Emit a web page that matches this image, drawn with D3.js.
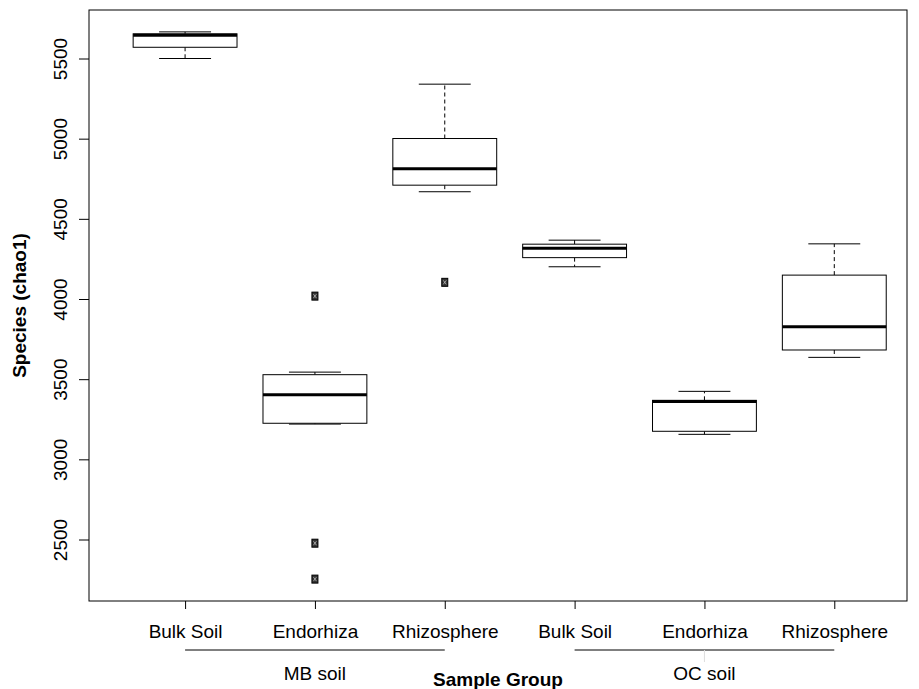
<!DOCTYPE html>
<html>
<head>
<meta charset="utf-8">
<script src="https://cdn.jsdelivr.net/npm/d3@7"></script>
<style>
  html, body { margin: 0; padding: 0; background: #fff; }
  svg { display: block; }
  text { font-family: "Liberation Sans", Arial, Helvetica, sans-serif; fill: #000; }
</style>
</head>
<body>
<svg id="chart" width="919" height="689"></svg>
<script>
// Sample groups, in plotting order
const categories = ["Bulk Soil", "Endorhiza", "Rhizosphere", "Bulk Soil", "Endorhiza", "Rhizosphere"];
const soils = ["MB soil", "OC soil"];
const soilOfBox = [0, 0, 0, 1, 1, 1];

// Box statistics for chao1 richness, one entry per sample group
const lowerWhisker = [5500, 3220, 4669, 4201, 3156, 3636];
const q1           = [5570, 3225, 4710, 4258, 3175, 3682];
const median       = [5645, 3403, 4812, 4316, 3360, 3827];
const q3           = [5654, 3528, 5001, 4342, 3368, 4149];
const upperWhisker = [5666, 3544, 5340, 4367, 3424, 4344];
const outliers     = [[], [4018, 2477, 2253], [4104], [], [], []];

const yTicks = [2500, 3000, 3500, 4000, 4500, 5000, 5500];

const svg = d3.select("#chart");
const plot = { left: 89, right: 907, top: 10, bottom: 601 };

// y range: data extent padded by 4% on each side
const allVals = lowerWhisker.concat(upperWhisker, outliers.flat());
const [lo, hi] = d3.extent(allVals);
const pad = (hi - lo) * 0.04;
const y = d3.scaleLinear().domain([lo - pad, hi + pad]).range([plot.bottom, plot.top]);

// box positions 1..6
const x = d3.scaleLinear().domain([0.26, 6.56]).range([plot.left, plot.right]);
const boxHalf = 0.4, capHalf = 0.2;

const boxes = categories.map((c, i) => ({
  i, pos: i + 1, c,
  lw: lowerWhisker[i], q1: q1[i], med: median[i], q3: q3[i], uw: upperWhisker[i],
  out: outliers[i]
}));

const g = svg.append("g");

// whiskers (dashed)
g.selectAll(".whisk-up").data(boxes).join("line")
  .attr("x1", d => x(d.pos)).attr("x2", d => x(d.pos))
  .attr("y1", d => y(d.q3)).attr("y2", d => y(d.uw))
  .attr("stroke", "#000").attr("stroke-width", 1).attr("stroke-dasharray", "4,3");
g.selectAll(".whisk-lo").data(boxes).join("line")
  .attr("x1", d => x(d.pos)).attr("x2", d => x(d.pos))
  .attr("y1", d => y(d.q1)).attr("y2", d => y(d.lw))
  .attr("stroke", "#000").attr("stroke-width", 1).attr("stroke-dasharray", "4,3");

// staples
["uw", "lw"].forEach(k => {
  g.selectAll(".cap-" + k).data(boxes).join("line")
    .attr("x1", d => x(d.pos - capHalf)).attr("x2", d => x(d.pos + capHalf))
    .attr("y1", d => y(d[k])).attr("y2", d => y(d[k]))
    .attr("stroke", "#000").attr("stroke-width", 1);
});

// boxes
g.selectAll(".box").data(boxes).join("rect")
  .attr("x", d => x(d.pos - boxHalf))
  .attr("width", d => x(d.pos + boxHalf) - x(d.pos - boxHalf))
  .attr("y", d => y(d.q3))
  .attr("height", d => y(d.q1) - y(d.q3))
  .attr("fill", "#fff").attr("stroke", "#000").attr("stroke-width", 1);

// medians
g.selectAll(".med").data(boxes).join("line")
  .attr("x1", d => x(d.pos - boxHalf)).attr("x2", d => x(d.pos + boxHalf))
  .attr("y1", d => y(d.med)).attr("y2", d => y(d.med))
  .attr("stroke", "#000").attr("stroke-width", 3);

// outlying points
const outPts = boxes.flatMap(d => d.out.map(v => ({ pos: d.pos, v })));
const og = g.selectAll(".out").data(outPts).join("g")
  .attr("transform", d => `translate(${x(d.pos)},${y(d.v)})`);
og.append("rect").attr("x", -3).attr("y", -4).attr("width", 6).attr("height", 8)
  .attr("fill", "#333").attr("stroke", "#000").attr("stroke-width", 1);
og.append("path").attr("d", "M-1.5,-2L1.5,2M1.5,-2L-1.5,2")
  .attr("stroke", "#ccc").attr("stroke-width", 0.7);

// frame
svg.append("rect")
  .attr("x", plot.left).attr("y", plot.top)
  .attr("width", plot.right - plot.left).attr("height", plot.bottom - plot.top)
  .attr("fill", "none").attr("stroke", "#000").attr("stroke-width", 1);

// y axis
const yAxis = svg.append("g").attr("transform", `translate(${plot.left},0)`)
  .call(d3.axisLeft(y).tickValues(yTicks).tickSize(10).tickFormat(d3.format("d")));
yAxis.select(".domain").remove();
yAxis.selectAll(".tick line").attr("stroke", "#000");
yAxis.selectAll(".tick text")
  .attr("x", null).attr("dy", null)
  .attr("transform", "translate(-22,0) rotate(-90)")
  .attr("text-anchor", "middle")
  .style("font-size", "19px")
  .style("font-family", "'Liberation Sans', Arial, sans-serif");

// x axis ticks and category labels
const xAxis = svg.append("g").attr("transform", `translate(0,${plot.bottom})`)
  .call(d3.axisBottom(x).tickValues(boxes.map(d => d.pos)).tickSize(8)
    .tickFormat((d, i) => categories[i]));
xAxis.select(".domain").remove();
xAxis.selectAll(".tick line").attr("stroke", "#000");
xAxis.selectAll(".tick text")
  .attr("y", 37).attr("dy", null)
  .style("font-size", "19px")
  .style("font-family", "'Liberation Sans', Arial, sans-serif");

// soil grouping lines and labels
soils.forEach((s, k) => {
  const members = boxes.filter(d => soilOfBox[d.i] === k);
  const x0 = x(d3.min(members, d => d.pos)), x1 = x(d3.max(members, d => d.pos));
  svg.append("line").attr("x1", x0).attr("x2", x1).attr("y1", 650).attr("y2", 650)
    .attr("stroke", "#000").attr("stroke-width", 1);
  svg.append("text").attr("x", (x0 + x1) / 2).attr("y", 680)
    .attr("text-anchor", "middle").style("font-size", "19px").text(s);
});
svg.append("line").attr("x1", x(5)).attr("x2", x(5)).attr("y1", 650).attr("y2", 662)
  .attr("stroke", "#ddd").attr("stroke-width", 1);

// axis titles
svg.append("text")
  .attr("transform", `translate(26,${(plot.top + plot.bottom) / 2}) rotate(-90)`)
  .attr("text-anchor", "middle")
  .style("font-size", "19px").style("font-weight", "bold")
  .text("Species (chao1)");
svg.append("text")
  .attr("x", (plot.left + plot.right) / 2).attr("y", 686)
  .attr("text-anchor", "middle")
  .style("font-size", "19px").style("font-weight", "bold")
  .text("Sample Group");
</script>
</body>
</html>
